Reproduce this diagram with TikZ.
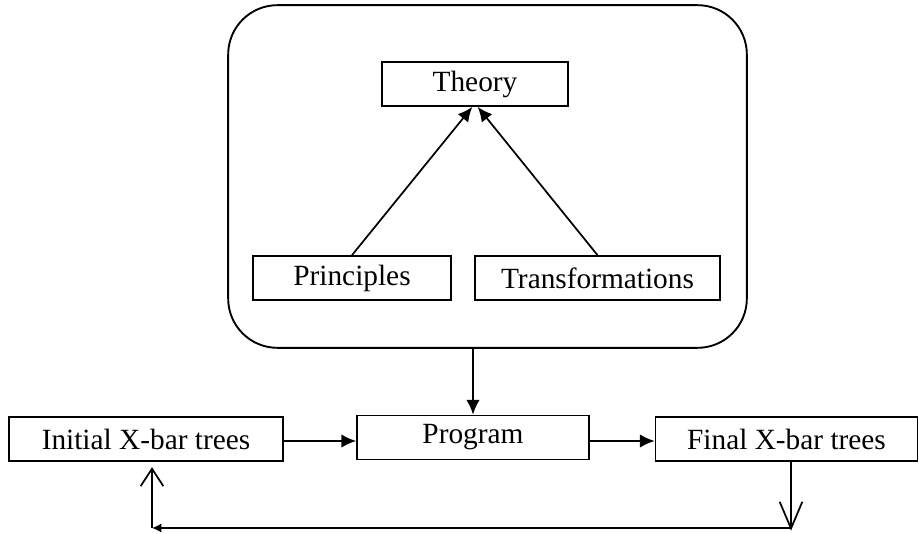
\documentclass[tikz,border=0pt]{standalone}
\usepackage{fontspec}
\setmainfont{Liberation Serif}
\usetikzlibrary{arrows.meta}
\begin{document}
\begin{tikzpicture}[x=0.75pt,y=-0.75pt,
  every node/.style={font=\fontsize{22}{26}\selectfont},
  box/.style={draw, line width=1.3pt, minimum height=33pt, inner sep=0pt},
  frame/.style={draw, line width=1.4pt, rounded corners=37pt, inner sep=0pt},
  link/.style={line width=1.3pt, -{Latex[length=11pt,width=10pt]}},
  smalllink/.style={line width=1.3pt, -{Latex[length=7pt,width=7pt]}},
  openlink/.style={line width=1.3pt, -{Straight Barb[length=#1,width=17pt,line width=1.3pt]}},
  openlink/.default=18pt]
\useasboundingbox (0,0) rectangle (919,534);

% theory frame and its parts
\node[frame, minimum width=389pt, minimum height=257pt] (frame) at (487.5,176.5) {};
\node[box, minimum width=139.5pt] (theory) at (475,84) {Theory};
\node[box, minimum width=148.5pt] (principles) at (352,278) {Principles};
\node[box, minimum width=183.75pt] (transf) at (597.5,278) {Transformations};

% pipeline
\node[box, minimum width=205.5pt] (initial) at (146,439) {Initial X-bar trees};
\node[box, minimum width=174pt] (program) at (473,437.5) {Program};
\node[box, minimum width=196.5pt] (final) at (786.5,439) {Final X-bar trees};

% feedback corners
\coordinate (fbr) at (791,528);
\coordinate (fbl) at (152,528);

\draw[link] (principles.north) -- ([xshift=-2pt]theory.south);
\draw[link] (transf.north) -- ([xshift=2pt]theory.south);
\draw[link] (frame.south -| program.north) -- (program.north);
\draw[link] ([yshift=-1.5pt]initial.east) -- ([yshift=-1.5pt]initial.east -| program.west);
\draw[link] ([yshift=-1.5pt]program.east |- final.west) -- ([yshift=-1.5pt]final.west);

\draw[openlink=20pt] (final.south -| fbr) -- ([yshift=-2pt]fbr);
\draw[smalllink] (fbr) -- (fbl);
\draw[openlink=13pt, shorten >=4pt] (fbl) -- (fbl |- initial.south);
\end{tikzpicture}
\end{document}
